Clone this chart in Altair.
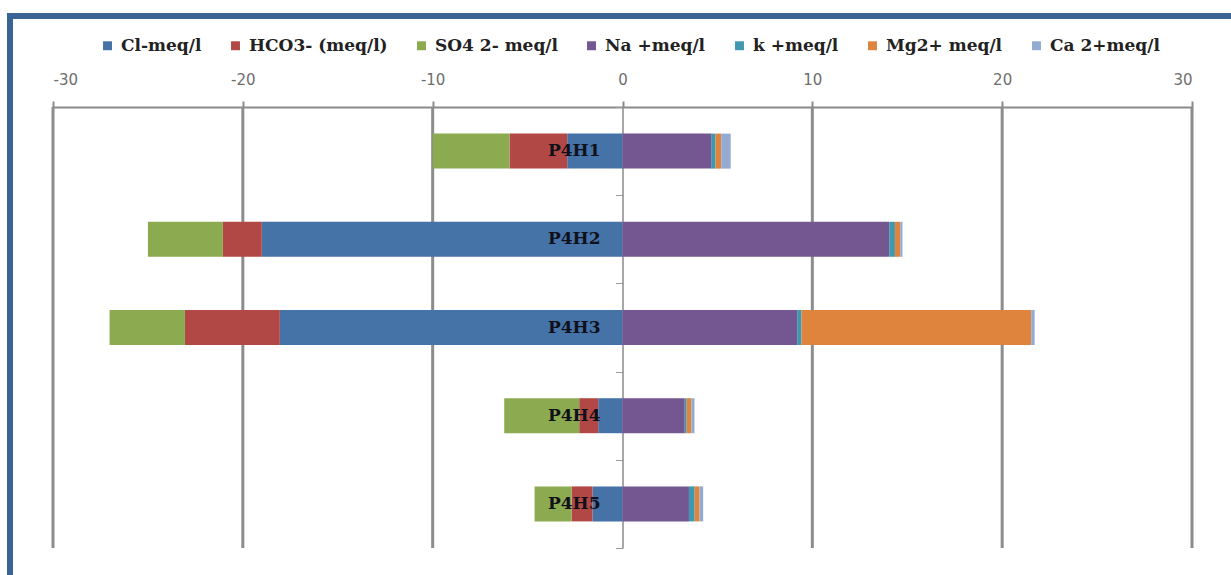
import altair as alt
import pandas as pd

# Sample points, top to bottom
samples = ["P4H1", "P4H2", "P4H3", "P4H4", "P4H5"]

# Anions (meq/l), drawn to the left of zero
cl = [2.91, 19.0, 18.05, 1.28, 1.58]
hco3 = [3.04, 2.05, 5.0, 1.0, 1.1]
so4 = [4.05, 3.95, 3.97, 3.95, 1.95]

# Cations (meq/l), drawn to the right of zero
na = [4.67, 14.05, 9.2, 3.28, 3.5]
k = [0.23, 0.3, 0.23, 0.1, 0.3]
mg = [0.3, 0.28, 12.1, 0.25, 0.26]
ca = [0.5, 0.12, 0.18, 0.16, 0.19]

ions = ["Cl-meq/l", "HCO3- (meq/l)", "SO4 2- meq/l", "Na +meq/l",
        "k +meq/l", "Mg2+ meq/l", "Ca 2+meq/l"]
ion_colors = ["#4572A7", "#B24845", "#8CAA4F", "#745791",
              "#3F98B0", "#DE843C", "#93ABD2"]
tick_values = [-30, -20, -10, 0, 10, 20, 30]
grid_values = [-30, -20, -10, 10, 20, 30]

series = [cl, hco3, so4, na, k, mg, ca]
rows = []
for i, (name, vals) in enumerate(zip(ions, series)):
    sign = -1 if i < 3 else 1
    for s, v in zip(samples, vals):
        rows.append({"sample": s, "ion": name, "value": sign * v, "order": i})
df = pd.DataFrame(rows)

W, H = 1139, 441

x_scale = alt.Scale(domain=[-30, 30], nice=False, zero=False)
y_scale = alt.Scale(domain=samples, paddingInner=0, paddingOuter=0)

bars = alt.Chart(df).mark_bar(size=35).encode(
    x=alt.X(
        "value:Q", scale=x_scale, stack="zero", title=None,
        axis=alt.Axis(
            orient="top", values=tick_values, grid=False,
            labelExpr="'' + datum.value",
            domainColor="#8a8a8a", domainWidth=2,
            tickColor="#8a8a8a", tickWidth=2, tickSize=6,
            labelFont="DejaVu Sans", labelFontSize=15, labelColor="#6e6e6e",
            labelPadding=14,
        ),
    ),
    y=alt.Y(
        "sample:N", scale=y_scale, title=None,
        axis=alt.Axis(
            orient="left", offset=-W / 2, labels=False, grid=False,
            domainColor="#8a8a8a", domainWidth=1.5,
            tickColor="#9a9a9a", tickWidth=1, tickSize=7, tickBand="extent",
        ),
    ),
    color=alt.Color(
        "ion:N",
        scale=alt.Scale(domain=ions, range=ion_colors),
        legend=alt.Legend(
            title=None, orient="none", legendX=46, legendY=-70,
            direction="horizontal", symbolType="square", symbolSize=80,
            symbolStrokeWidth=0, labelFont="DejaVu Serif", labelFontWeight="bold",
            labelFontSize=17, labelColor="#222222", labelOffset=5,
            columnPadding=25,
        ),
    ),
    order=alt.Order("order:Q"),
)

grid = alt.Chart(pd.DataFrame({"v": grid_values})).mark_rule(
    color="#8c8c8c", strokeWidth=3
).encode(
    x=alt.X("v:Q", scale=x_scale),
    y=alt.value(0),
    y2=alt.value(H),
)

labels = alt.Chart(pd.DataFrame({"sample": samples})).mark_text(
    align="right", baseline="middle", dx=-22,
    font="DejaVu Serif", fontWeight="bold", fontSize=17, color="#10101a",
).encode(
    x=alt.datum(0),
    y=alt.Y("sample:N", scale=y_scale),
    text="sample:N",
)

# Dark blue frame around the whole figure
frame = alt.Chart(pd.DataFrame({"f": [0]})).mark_rect(
    filled=False, stroke="#3A6396", strokeWidth=6
).encode(
    x=alt.value(-43), x2=alt.value(W + 60),
    y=alt.value(-91), y2=alt.value(H + 80),
)

chart = alt.layer(grid, bars, labels, frame).properties(
    width=W, height=H,
    padding={"left": 53, "top": 107, "right": 39, "bottom": 27},
    autosize=alt.AutoSizeParams(type="none"),
    background="white",
).configure_view(stroke=None)

chart.save("out.html", embed_options={"renderer": "svg", "actions": False})
